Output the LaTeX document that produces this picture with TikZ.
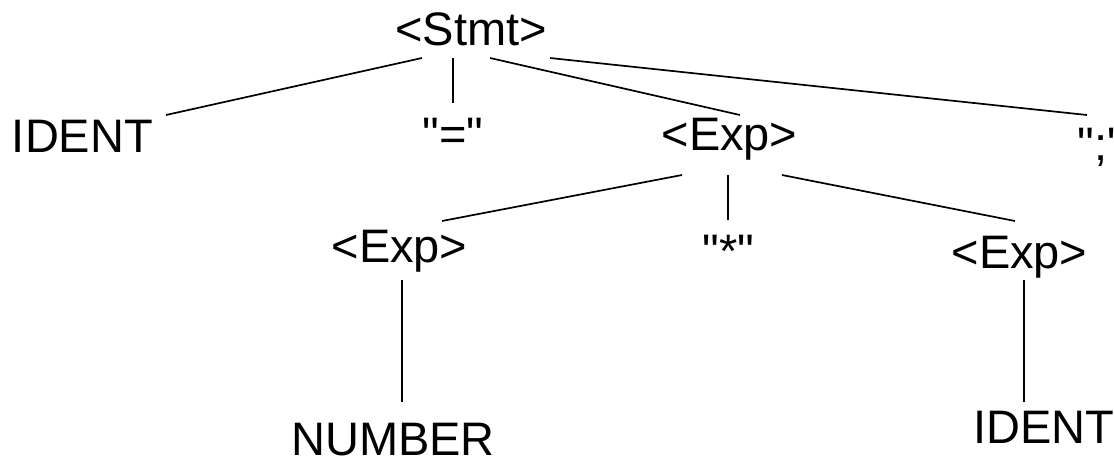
\documentclass[tikz,border=0pt]{standalone}
\usepackage{fontspec}
\setmainfont{Liberation Sans}[Ligatures=TeXOff]
\usetikzlibrary{calc}
\begin{document}
\begin{tikzpicture}[x=1pt,y=-1pt,
  lbl/.style={anchor=base,inner sep=0pt,font=\fontsize{47}{56}\selectfont},
  edge/.style={line width=1.7pt,line cap=butt}]
\clip (0,0) rectangle (1114,456);
\useasboundingbox (0,0) rectangle (1114,456);
\node[lbl] (stmt)   at (471,45)    {<Stmt>};
\node[lbl] (ident1) at (82.5,152)  {IDENT};
\node[lbl] (eq)     at (453,150)   {"="};
\node[lbl] (exp1)   at (729.5,150) {<Exp>};
\node[lbl] (semi)   at (1101,160)  {";"};
\node[lbl] (exp2)   at (399.5,262) {<Exp>};
\node[lbl] (star)   at (728.5,267) {"*"};
\node[lbl] (exp3)   at (1019.5,268) {<Exp>};
\node[lbl] (number) at (393,455)   {NUMBER};
\node[lbl] (ident2) at (1044,443)  {IDENT};
\draw[edge] ($(stmt.base)+(-49,13)$) -- ($(ident1.base)+(83.5,-37)$);
\draw[edge] ($(stmt.base)+(-18,13)$) -- ($(eq.base)+(0,-47)$);
\draw[edge] ($(stmt.base)+(19,13)$) -- ($(exp1.base)+(10.5,-35)$);
\draw[edge] ($(stmt.base)+(79,13)$) -- ($(semi.base)+(-14,-45)$);
\draw[edge] ($(exp1.base)+(-47.5,25)$) -- ($(exp2.base)+(42.5,-41)$);
\draw[edge] ($(exp1.base)+(-1.5,25)$) -- ($(star.base)+(-0.5,-47)$);
\draw[edge] ($(exp1.base)+(52.5,25)$) -- ($(exp3.base)+(-4.5,-47)$);
\draw[edge] ($(exp2.base)+(2.5,18)$) -- ($(number.base)+(9,-53)$);
\draw[edge] ($(exp3.base)+(4.5,12)$) -- ($(ident2.base)+(-20,-41)$);
\end{tikzpicture}
\end{document}
